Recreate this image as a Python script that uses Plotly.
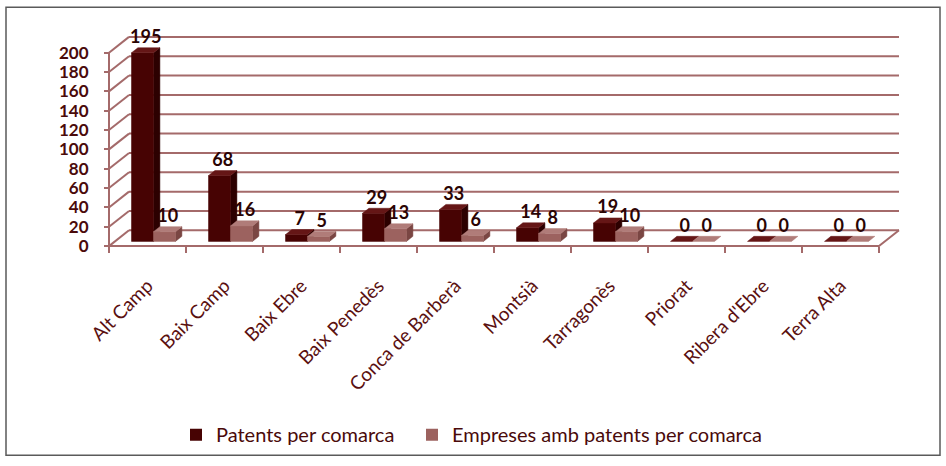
import plotly.graph_objects as go

# ---------------- data ----------------
categories = ["Alt Camp", "Baix Camp", "Baix Ebre", "Baix Penedès", "Conca de Barberà",
              "Montsià", "Tarragonès", "Priorat", "Ribera d'Ebre", "Terra Alta"]
patents = [195, 68, 7, 29, 33, 14, 19, 0, 0, 0]
empreses = [10, 16, 5, 13, 6, 8, 10, 0, 0, 0]
series_names = ["Patents per comarca", "Empreses amb patents per comarca"]
y_ticks = list(range(0, 201, 20))

# ---------------- layout geometry ----------------
W_FIG, H_FIG = 946, 466
L, R, T, B = 100, 905, 28, 258          # plot area in px
X0PX, PXU_X = 109, 77.0                 # front left edge px, px per category
Y0PX, PXU_Y = 249, 0.98                 # px of value 0 on front, px per unit
xr = [-0.5 - (X0PX - L) / PXU_X, -0.5 + (R - X0PX) / PXU_X]
yr = [-(B - Y0PX) / PXU_Y, (Y0PX - T) / PXU_Y]
DX = 20 / PXU_X                         # depth offset (x units)
DY = 16 / PXU_Y                         # depth offset (y units)
BW = 22 / PXU_X                         # bar width
F0, F1 = 0.30, 0.62                     # bar front/back depth fractions

def px2paper_x(px):
    return (px - L) / (R - L)

def px2paper_y(py):
    return (B - py) / (B - T)

GRID = "#a46a6a"
FONT = "Lato, 'Open Sans', sans-serif"

fig = go.Figure()

# back-wall gridlines and depth tick connectors
gx, gy = [], []
for v in y_ticks:
    gx += [-0.5 + DX, len(categories) - 0.5 + DX, None]
    gy += [v + DY, v + DY, None]
    gx += [-0.5, -0.5 + DX, None]
    gy += [v, v + DY, None]
# floor edges and front vertical axis
gx += [-0.5, len(categories) - 0.5, len(categories) - 0.5 + DX, None, -0.5, -0.5, None]
gy += [0, 0, DY, None, 0, y_ticks[-1], None]
fig.add_trace(go.Scatter(x=gx, y=gy, mode="lines", line=dict(color=GRID, width=2),
                         hoverinfo="skip", showlegend=False))

def faces(values, left_off, right_off):
    fx, fy, tx, ty, sx, sy = [], [], [], [], [], []
    for i, v in enumerate(values):
        a, b = i + left_off, i + right_off
        d0x, d0y, d1x, d1y = F0 * DX, F0 * DY, F1 * DX, F1 * DY
        if v > 0:
            fx += [a + d0x, b + d0x, b + d0x, a + d0x, a + d0x, None]
            fy += [d0y, d0y, v + d0y, v + d0y, d0y, None]
            sx += [b + d0x, b + d1x, b + d1x, b + d0x, b + d0x, None]
            sy += [d0y, d1y, v + d1y, v + d0y, d0y, None]
        tx += [a + d0x, b + d0x, b + d1x, a + d1x, a + d0x, None]
        ty += [v + d0y, v + d0y, v + d1y, v + d1y, v + d0y, None]
    return (fx, fy), (tx, ty), (sx, sy)

series = [
    (patents, -BW, 0.0, ("#470303", "#651616", "#2c0000")),
    (empreses, 0.0, BW, ("#9c625f", "#b07c79", "#7a4643")),
]
for vals, lo, ro, cols in series:
    front, top, side = faces(vals, lo, ro)
    for (xs, ys), col in ((side, cols[2]), (front, cols[0]), (top, cols[1])):
        fig.add_trace(go.Scatter(x=xs, y=ys, mode="lines", fill="toself", fillcolor=col,
                                 line=dict(color=col, width=0.5), hoverinfo="skip",
                                 showlegend=False))

# value labels
for vals, lo, ro, cols in series:
    xs = [i + (lo + ro) / 2 + (F0 + F1) / 2 * DX for i in range(len(vals))]
    ys = [v + F1 * DY for v in vals]
    fig.add_trace(go.Scatter(x=xs, y=ys, mode="text", text=[str(v) for v in vals],
                             textposition="top center", cliponaxis=False,
                             textfont=dict(family=FONT, size=18, color="#2a0404", weight="bold"),
                             hoverinfo="skip", showlegend=False))

# legend entries (one legend box per series)
for name, (_, _, _, cols), lg in zip(series_names, series, ["legend", "legend2"]):
    fig.add_trace(go.Bar(x=[0], y=[0], name=name, legend=lg,
                         marker=dict(color=cols[0], line=dict(width=0)),
                         hoverinfo="skip"))

# boundary ticks on category axis
fig.add_trace(go.Scatter(x=[0], y=[0], xaxis="x2", mode="markers",
                         marker=dict(opacity=0), hoverinfo="skip", showlegend=False))

legend_common = dict(orientation="h", xanchor="left", y=px2paper_y(440), yanchor="middle",
                     font=dict(family=FONT, size=20, color="#4a0a0a"),
                     itemwidth=30, bgcolor="rgba(0,0,0,0)")

fig.update_layout(
    width=W_FIG, height=H_FIG,
    margin=dict(l=L, r=W_FIG - R, t=T, b=H_FIG - B),
    paper_bgcolor="white", plot_bgcolor="white",
    showlegend=True,
    legend=dict(x=px2paper_x(176), **legend_common),
    legend2=dict(x=px2paper_x(412), **legend_common),
    xaxis=dict(range=xr, anchor="free", position=px2paper_y(Y0PX),
               tickmode="array", tickvals=list(range(len(categories))), ticktext=categories,
               tickangle=-45, ticks="", showgrid=False, zeroline=False, showline=False,
               ticklabelstandoff=24,
               tickfont=dict(family=FONT, size=19, color="#5a1010")),
    xaxis2=dict(range=xr, overlaying="x", anchor="free", position=px2paper_y(Y0PX),
                tickmode="array", tickvals=[i - 0.5 for i in range(len(categories) + 1)],
                ticks="outside", ticklen=6, tickwidth=2, tickcolor=GRID,
                showticklabels=False, showgrid=False, zeroline=False, showline=False),
    yaxis=dict(range=yr, anchor="free", position=px2paper_x(X0PX),
               tickmode="array", tickvals=y_ticks, ticks="outside", ticklen=5,
               tickwidth=2, tickcolor=GRID, showgrid=False, zeroline=False, showline=False,
               ticklabelstandoff=12,
               tickfont=dict(family=FONT, size=17, color="#4a0a0a", weight="bold")),
    shapes=[dict(type="rect", xref="paper", yref="paper",
                 x0=px2paper_x(6), x1=px2paper_x(940), y0=px2paper_y(461), y1=px2paper_y(7),
                 line=dict(color="#5a5a5a", width=1.5), fillcolor="rgba(0,0,0,0)")],
)

fig.write_html("out.html")
